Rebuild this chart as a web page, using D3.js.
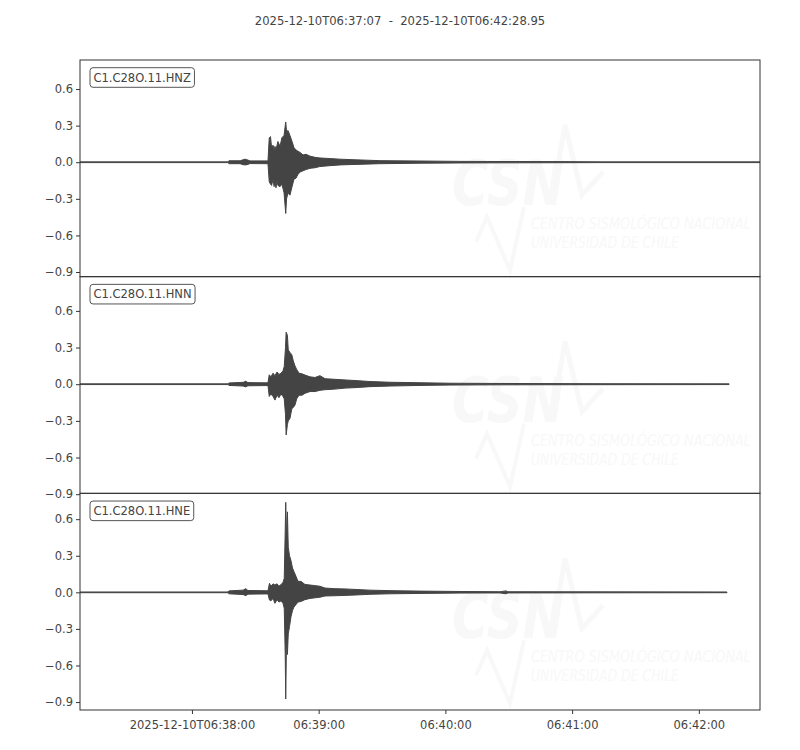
<!DOCTYPE html>
<html>
<head>
<meta charset="utf-8">
<script src="https://cdn.jsdelivr.net/npm/d3@7"></script>
<style>
  html, body { margin: 0; padding: 0; background: #fff; }
  svg { display: block; font-family: "DejaVu Sans", sans-serif; }
</style>
</head>
<body>
<svg id="chart" width="800" height="750"></svg>
<script>
// ---------------- DATA ----------------
const startTime = "2025-12-10T06:37:07Z";
const endTime = "2025-12-10T06:42:28.95Z";
const titleText = "2025-12-10T06:37:07  -  2025-12-10T06:42:28.95";
const channels = ["C1.C28O.11.HNZ", "C1.C28O.11.HNN", "C1.C28O.11.HNE"];
const xTickTimes = ["2025-12-10T06:38:00Z", "2025-12-10T06:39:00Z", "2025-12-10T06:40:00Z", "2025-12-10T06:41:00Z", "2025-12-10T06:42:00Z"];
const xTickLabels = ["2025-12-10T06:38:00", "06:39:00", "06:40:00", "06:41:00", "06:42:00"];
const yTicks = [-0.9, -0.6, -0.3, 0.0, 0.3, 0.6];
const hnzYlim = [-0.938, 0.838];
const hnnYlim = [-0.893, 0.880];
const hneYlim = [-0.965, 0.812];

// envelopes: seconds after start, upper envelope, lower envelope
const hnzT   = [0, 70.1, 70.5, 75.8, 77.2, 78.1, 79.1, 80.5, 89.0, 89.6, 90.2, 90.7, 91.4, 91.9, 92.3, 92.8, 93.3, 93.7, 94.7, 95.6, 96.6, 97.4, 97.8, 98.5, 99.4, 100.4, 101.3, 102.3, 103.2, 104.2, 105.6, 107.0, 108.9, 111.3, 113.6, 118.4, 123.1, 130.2, 142.0, 161.0, 179.9, 198.9, 227.3, 246.2, 321.95];
const hnzMax = [0.003, 0.003, 0.012, 0.012, 0.02, 0.025, 0.02, 0.011, 0.011, 0.20, 0.21, 0.12, 0.14, 0.09, 0.13, 0.10, 0.14, 0.17, 0.13, 0.20, 0.22, 0.33, 0.25, 0.26, 0.22, 0.17, 0.12, 0.10, 0.09, 0.08, 0.06, 0.065, 0.05, 0.04, 0.035, 0.03, 0.025, 0.02, 0.013, 0.01, 0.007, 0.006, 0.005, 0.003, 0.003];
const hnzMin = [-0.003, -0.003, -0.012, -0.012, -0.02, -0.022, -0.02, -0.011, -0.012, -0.16, -0.18, -0.19, -0.14, -0.20, -0.16, -0.21, -0.15, -0.19, -0.20, -0.18, -0.25, -0.42, -0.30, -0.25, -0.27, -0.20, -0.14, -0.13, -0.10, -0.08, -0.07, -0.06, -0.05, -0.045, -0.035, -0.028, -0.022, -0.018, -0.012, -0.008, -0.006, -0.005, -0.004, -0.003, -0.003];

const hnnT   = [0, 70.1, 70.5, 77.2, 78.5, 79.5, 89.0, 89.6, 90.4, 91.4, 92.3, 93.3, 94.2, 95.2, 96.1, 96.7, 97.3, 97.6, 98.2, 98.6, 99.4, 100.3, 101.0, 101.8, 102.6, 103.7, 105.1, 106.5, 108.9, 111.3, 113.6, 116.0, 120.7, 125.5, 130.2, 137.3, 146.8, 161.0, 175.2, 198.9, 246.2, 307.3];
const hnnMax = [0.003, 0.003, 0.01, 0.015, 0.024, 0.013, 0.011, 0.077, 0.06, 0.09, 0.07, 0.10, 0.08, 0.09, 0.11, 0.145, 0.30, 0.426, 0.40, 0.28, 0.26, 0.24, 0.19, 0.15, 0.12, 0.09, 0.085, 0.075, 0.06, 0.055, 0.07, 0.045, 0.04, 0.035, 0.03, 0.022, 0.016, 0.012, 0.008, 0.006, 0.004, 0.003];
const hnnMin = [-0.003, -0.003, -0.01, -0.015, -0.022, -0.013, -0.011, -0.10, -0.08, -0.10, -0.13, -0.09, -0.11, -0.08, -0.10, -0.12, -0.25, -0.415, -0.33, -0.30, -0.28, -0.20, -0.19, -0.17, -0.12, -0.09, -0.09, -0.075, -0.06, -0.06, -0.05, -0.045, -0.04, -0.032, -0.028, -0.02, -0.015, -0.01, -0.007, -0.005, -0.004, -0.003];

const hneT   = [0, 70.1, 70.5, 77.2, 78.5, 79.5, 89.0, 89.7, 90.4, 91.4, 92.3, 93.3, 94.2, 95.2, 96.1, 96.7, 97.15, 97.4, 97.8, 98.2, 98.6, 99.2, 99.9, 100.6, 101.3, 102.3, 103.2, 104.6, 106.5, 108.9, 111.3, 113.6, 116.0, 120.7, 125.5, 130.2, 137.3, 146.8, 161.0, 179.9, 198.9, 201.7, 202.6, 246.2, 306.3];
const hneMax = [0.003, 0.003, 0.012, 0.018, 0.03, 0.015, 0.013, 0.074, 0.05, 0.07, 0.06, 0.07, 0.05, 0.065, 0.08, 0.115, 0.50, 0.738, 0.45, 0.66, 0.37, 0.30, 0.26, 0.20, 0.17, 0.13, 0.09, 0.09, 0.065, 0.06, 0.055, 0.05, 0.035, 0.03, 0.028, 0.024, 0.018, 0.014, 0.01, 0.007, 0.005, 0.012, 0.005, 0.004, 0.003];
const hneMin = [-0.003, -0.003, -0.012, -0.018, -0.027, -0.015, -0.013, -0.063, -0.07, -0.05, -0.09, -0.06, -0.08, -0.07, -0.09, -0.13, -0.50, -0.875, -0.35, -0.51, -0.34, -0.28, -0.20, -0.15, -0.12, -0.10, -0.08, -0.075, -0.06, -0.05, -0.045, -0.04, -0.03, -0.028, -0.025, -0.022, -0.016, -0.012, -0.009, -0.006, -0.005, -0.012, -0.005, -0.004, -0.003];

// ---------------- DRAW ----------------
const svg = d3.select("#chart");
const margin = { left: 80, right: 40, top: 60, bottom: 40 };
const plotW = 800 - margin.left - margin.right;
const plotH = 750 - margin.top - margin.bottom;
const panelH = plotH / 3;
const ink = "#444";
const textCol = "#444";
const markCol = "#f8f8f8";

const t0 = new Date(startTime);
const x = d3.scaleUtc().domain([t0, new Date(endTime)]).range([margin.left, margin.left + plotW]);

const traces = [
  { name: channels[0], ylim: hnzYlim, t: hnzT, hi: hnzMax, lo: hnzMin },
  { name: channels[1], ylim: hnnYlim, t: hnnT, hi: hnnMax, lo: hnnMin },
  { name: channels[2], ylim: hneYlim, t: hneT, hi: hneMax, lo: hneMin }
];

svg.append("rect").attr("width", 800).attr("height", 750).attr("fill", "#fff");

svg.append("text")
  .attr("x", 400).attr("y", 24.5)
  .attr("text-anchor", "middle")
  .attr("font-size", 11.6)
  .attr("fill", textCol)
  .attr("xml:space", "preserve")
  .style("white-space", "pre")
  .text(titleText);

const defs = svg.append("defs");

traces.forEach((tr, i) => {
  const top = margin.top + i * panelH;
  const bottom = top + panelH;
  const y = d3.scaleLinear().domain(tr.ylim).range([bottom, top]);
  const g = svg.append("g");

  defs.append("clipPath").attr("id", "clip" + i)
    .append("rect").attr("x", margin.left).attr("y", top).attr("width", plotW).attr("height", panelH);

  // faint watermark (clipped in page coordinates, then shifted per panel)
  const wmOuter = g.append("g").attr("clip-path", `url(#clip${i})`);
  const wm = wmOuter.append("g").attr("transform", `translate(0,${top - margin.top})`);
  wm.append("text").attr("x", 452).attr("y", 205)
    .attr("font-size", 62).attr("font-weight", "bold").attr("font-style", "italic")
    .attr("textLength", 112).attr("lengthAdjust", "spacingAndGlyphs")
    .attr("fill", markCol).text("CSN");
  wm.append("path").attr("d", "M552,200 L565,125 L582,195 L603,172")
    .attr("fill", "none").attr("stroke", markCol).attr("stroke-width", 5);
  wm.append("path").attr("d", "M476,242 L487,217 L510,270 L524,207")
    .attr("fill", "none").attr("stroke", markCol).attr("stroke-width", 4);
  wm.append("text").attr("x", 531).attr("y", 229)
    .attr("font-size", 15).attr("font-style", "italic")
    .attr("textLength", 220).attr("lengthAdjust", "spacingAndGlyphs")
    .attr("fill", markCol).text("CENTRO SISMOLÓGICO NACIONAL");
  wm.append("text").attr("x", 531).attr("y", 248)
    .attr("font-size", 15).attr("font-style", "italic")
    .attr("textLength", 148).attr("lengthAdjust", "spacingAndGlyphs")
    .attr("fill", markCol).text("UNIVERSIDAD DE CHILE");

  // trace envelope
  const pts = tr.t.map((s, k) => ({ date: new Date(t0.getTime() + s * 1000), hi: tr.hi[k], lo: tr.lo[k] }));
  const area = d3.area()
    .x(d => x(d.date))
    .y0(d => y(d.lo))
    .y1(d => y(d.hi));
  g.append("path").datum(pts)
    .attr("clip-path", `url(#clip${i})`)
    .attr("d", area)
    .attr("fill", ink).attr("stroke", ink).attr("stroke-width", 1)
    .attr("stroke-linejoin", "round");

  // y axis
  const yAxis = d3.axisLeft(y).tickValues(yTicks).tickFormat(d3.format(".1f")).tickSizeOuter(0).tickSize(4).tickPadding(3);
  const ya = g.append("g").attr("transform", `translate(${margin.left},0)`).call(yAxis);
  ya.select(".domain").remove();
  ya.selectAll("line").attr("stroke", "#333");
  ya.selectAll("text").attr("font-size", 11.5).attr("fill", textCol).attr("font-family", "DejaVu Sans");

  // frame
  g.append("rect").attr("x", margin.left).attr("y", top).attr("width", plotW).attr("height", panelH)
    .attr("fill", "none").attr("stroke", "#333").attr("stroke-width", 1);

  // label box
  const lb = g.append("g");
  const lt = lb.append("text").attr("x", 93.5).attr("y", top + 21.5)
    .attr("font-size", 11.5).attr("fill", textCol).text(tr.name);
  const bb = lt.node().getBBox();
  lb.insert("rect", "text")
    .attr("x", bb.x - 3.5).attr("y", top + 7.7)
    .attr("width", bb.width + 7).attr("height", 19.6)
    .attr("rx", 3).attr("ry", 3)
    .attr("fill", "#fff").attr("stroke", "#555").attr("stroke-width", 1);

  if (i === traces.length - 1) {
    const xAxis = d3.axisBottom(x)
      .tickValues(xTickTimes.map(s => new Date(s)))
      .tickFormat((d, k) => xTickLabels[k])
      .tickSize(4).tickPadding(7).tickSizeOuter(0);
    const xa = g.append("g").attr("transform", `translate(0,${bottom})`).call(xAxis);
    xa.select(".domain").remove();
    xa.selectAll("line").attr("stroke", "#333");
    xa.selectAll("text").attr("font-size", 11.5).attr("fill", textCol).attr("font-family", "DejaVu Sans");
  }
});
</script>
</body>
</html>
